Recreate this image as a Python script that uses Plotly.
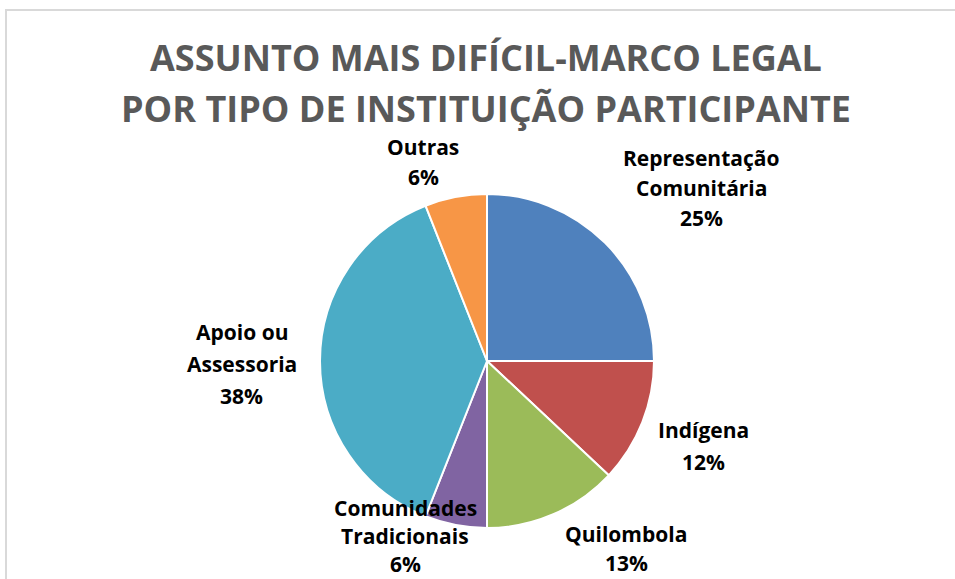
import plotly.graph_objects as go

categories = ["Representação\nComunitária", "Indígena", "Quilombola",
              "Comunidades\nTradicionais", "Apoio ou\nAssessoria", "Outras"]
values = [25, 12, 13, 6, 38, 6]
colors = ["#4F81BD", "#C0504D", "#9BBB59", "#8064A2", "#4BACC6", "#F79646"]
title_lines = ["ASSUNTO MAIS DIFÍCIL-MARCO LEGAL",
               "POR TIPO DE INSTITUIÇÃO PARTICIPANTE"]

# label layout: (x center px, first-line y center px, line spacing px)
label_layout = [(701, 158, 30), (703, 430, 32), (626, 534, 29),
                (405, 508, 28), (242, 332, 32), (423, 147, 30)]

W, H = 955, 579
CX, CY, R = 487, 361, 167

fig = go.Figure(go.Pie(
    labels=[c.replace("\n", " ") for c in categories],
    values=values,
    sort=False,
    direction="clockwise",
    rotation=0,
    marker=dict(colors=colors, line=dict(color="white", width=2)),
    textinfo="none",
    hoverinfo="label+percent",
    domain=dict(x=[(CX - R) / W, (CX + R) / W],
                y=[(H - CY - R) / H, (H - CY + R) / H]),
    showlegend=False,
))

total = sum(values)
for cat, v, (px, py, sp) in zip(categories, values, label_layout):
    pct = round(100 * v / total)
    lines = cat.split("\n") + [f"{pct}%"]
    for i, ln in enumerate(lines):
        fig.add_annotation(
            x=px / W, y=1 - (py + i * sp) / H, xref="paper", yref="paper",
            text=f"<b>{ln}</b>", showarrow=False, borderpad=0,
            font=dict(family="Open Sans", size=21, color="black"),
            xanchor="center", yanchor="middle",
        )

for i, t in enumerate(title_lines):
    fig.add_annotation(
        x=486 / W, y=1 - (57 + i * 51) / H, xref="paper", yref="paper",
        text=f"<b>{t}</b>", showarrow=False, xanchor="center", yanchor="middle",
        borderpad=0,
        font=dict(family="Open Sans", size=36, color="#595959"),
    )

fig.add_shape(type="rect", xref="paper", yref="paper",
              x0=6 / W, x1=1.02, y0=-0.02, y1=1 - 10 / H,
              line=dict(color="#D9D9D9", width=2), fillcolor="rgba(0,0,0,0)")

fig.update_layout(width=W, height=H, margin=dict(l=0, r=0, t=0, b=0),
                  paper_bgcolor="white", plot_bgcolor="white")
fig.write_html("out.html", config={"displayModeBar": False},
               post_script="document.body.style.margin='0px';")
